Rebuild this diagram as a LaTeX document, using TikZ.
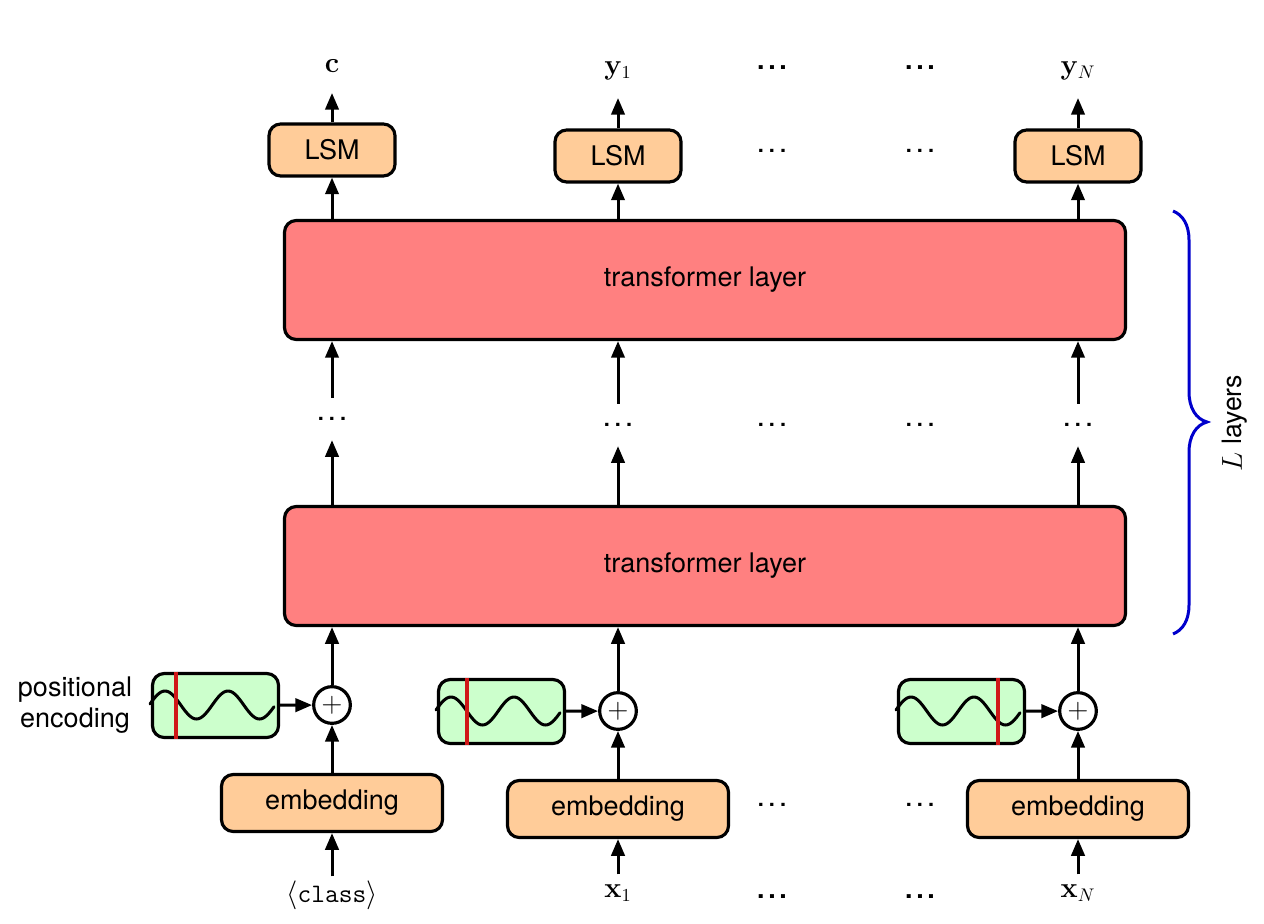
\documentclass[tikz,border=0pt]{standalone}
\usepackage[no-math]{fontspec}
\setmainfont{TeX Gyre Heros}
\usetikzlibrary{arrows.meta}
\definecolor{lsmfill}{HTML}{FFCC99}
\definecolor{layerfill}{HTML}{FF8080}
\definecolor{posfill}{HTML}{CCFFCC}
\definecolor{posred}{HTML}{D01818}
\definecolor{braceblue}{HTML}{0000CC}
\tikzset{
  x=0.6pt, y=-0.6pt,
  arr/.style={line width=1.8pt, -{Triangle[length=10pt,width=8pt]}},
  block/.style={draw, line width=1.9pt, rounded corners=7pt, inner sep=0pt, font=\fontsize{16.2}{19}\selectfont},
  lsmbox/.style={block, fill=lsmfill, minimum width=75.6pt, minimum height=31.2pt},
  embbox/.style={block, fill=lsmfill, minimum width=132.6pt, minimum height=34.2pt},
  layerbox/.style={block, fill=layerfill, minimum width=504.6pt, minimum height=71.4pt},
  posbox/.style={block, fill=posfill, minimum width=75.6pt, minimum height=38.4pt},
  plusnode/.style={draw, circle, line width=1.9pt, fill=white, minimum size=22pt, inner sep=0pt, font=\fontsize{16}{18}\selectfont},
  outlabel/.style={inner sep=0pt, minimum height=32pt, font=\fontsize{16}{18}\selectfont},
  dotsmid/.style={inner sep=0pt, minimum height=25pt, font=\fontsize{16}{18}\selectfont},
  inlabel/.style={inner sep=0pt, minimum height=22pt, font=\fontsize{16}{18}\selectfont},
  wave/.style={line width=1.8pt, line cap=round},
  redbar/.style={line width=2.2pt, posred}
}
\newcommand{\poswave}[2]{%
  \draw[wave] plot[domain=0:124, samples=70, smooth] ({#1+\x},{#2-14*cos(5.714*(\x-15))});
}
\newcommand{\bolddots}{\textbf{.\kern2.2pt.\kern2.2pt.}}
\newcommand{\thindots}{\textbf{\fontsize{13}{15}\selectfont.\kern3pt.\kern3pt.}}
\begin{document}
\begin{tikzpicture}
  \useasboundingbox (0,0) rectangle (1264,924);

  % outputs
  \node[outlabel] (c) at (332,66) {$\mathbf{c}$};
  \node[outlabel] (y1) at (618,71) {$\mathbf{y}_1$};
  \node[outlabel] (yN) at (1078,71) {$\mathbf{y}_N$};
  \node[outlabel] (topdotsa) at (772,68) {\bolddots};
  \node[outlabel] (topdotsb) at (920,68) {\bolddots};

  \node[lsmbox] (lsmc) at (332,150) {LSM};
  \node[lsmbox] (lsm1) at (618,156) {LSM};
  \node[lsmbox] (lsmN) at (1078,156) {LSM};
  \node[outlabel] (lsmdotsa) at (772,151) {\thindots};
  \node[outlabel] (lsmdotsb) at (920,151) {\thindots};

  % transformer layers
  \node[layerbox] (layertop) at (705,280) {transformer layer};
  \node[layerbox] (layerlow) at (705,566) {transformer layer};

  \node[dotsmid] (midc) at (332,419) {\thindots};
  \node[dotsmid] (mid1) at (618,425) {\thindots};
  \node[dotsmid] (midN) at (1078,425) {\thindots};
  \node[dotsmid] (middotsa) at (772,425) {\thindots};
  \node[dotsmid] (middotsb) at (920,425) {\thindots};

  % positional encoding
  \node[posbox] (posc) at (215.5,705.5) {};
  \node[posbox] (pos1) at (501.5,711.5) {};
  \node[posbox] (posN) at (961.5,711.5) {};
  \node[plusnode] (plusc) at (332,705) {$+$};
  \node[plusnode] (plus1) at (618,711) {$+$};
  \node[plusnode] (plusN) at (1078,711) {$+$};
  \node[align=center, inner sep=0pt, font=\fontsize{16.2}{18.5}\selectfont] (poslabel) at (75,705) {positional\\encoding};

  \poswave{150}{705}
  \poswave{436}{711}
  \poswave{896}{711}
  \draw[redbar] (posc.north west)++(25,0) coordinate (barc) -- (barc |- posc.south);
  \draw[redbar] (pos1.north west)++(30,0) coordinate (bara) -- (bara |- pos1.south);
  \draw[redbar] (posN.north west)++(101,0) coordinate (barb) -- (barb |- posN.south);

  % embeddings
  \node[embbox] (embc) at (332,803) {embedding};
  \node[embbox] (emb1) at (618,809) {embedding};
  \node[embbox] (embN) at (1078,809) {embedding};
  \node[outlabel] (embdotsa) at (772,805) {\thindots};
  \node[outlabel] (embdotsb) at (920,805) {\thindots};

  % inputs
  \node[inlabel] (xc) at (332,895) {$\langle\texttt{class}\rangle$};
  \node[inlabel] (x1) at (618,893) {$\mathbf{x}_1$};
  \node[inlabel] (xN) at (1078,893) {$\mathbf{x}_N$};
  \node[inlabel] (indotsa) at (772,897) {\bolddots};
  \node[inlabel] (indotsb) at (920,897) {\bolddots};

  % connectors
  \draw[arr] (lsmc) -- (c);
  \draw[arr] (lsm1) -- (y1);
  \draw[arr] (lsmN) -- (yN);
  \draw[arr] (lsmc |- layertop.north) -- (lsmc);
  \draw[arr] (lsm1 |- layertop.north) -- (lsm1);
  \draw[arr] (lsmN |- layertop.north) -- (lsmN);
  \draw[arr] (midc) -- (midc |- layertop.south);
  \draw[arr] (mid1) -- (mid1 |- layertop.south);
  \draw[arr] (midN) -- (midN |- layertop.south);
  \draw[arr] (midc |- layerlow.north) -- (midc);
  \draw[arr] (mid1 |- layerlow.north) -- (mid1);
  \draw[arr] (midN |- layerlow.north) -- (midN);
  \draw[arr] (plusc) -- (plusc |- layerlow.south);
  \draw[arr] (plus1) -- (plus1 |- layerlow.south);
  \draw[arr] (plusN) -- (plusN |- layerlow.south);
  \draw[arr] (posc) -- (plusc);
  \draw[arr] (pos1) -- (plus1);
  \draw[arr] (posN) -- (plusN);
  \draw[arr] (embc) -- (plusc);
  \draw[arr] (emb1) -- (plus1);
  \draw[arr] (embN) -- (plusN);
  \draw[arr] (xc) -- (embc);
  \draw[arr] (x1) -- (emb1);
  \draw[arr] (xN) -- (embN);

  % brace
  \draw[line width=1.8pt, braceblue] (1173,211) .. controls (1183,215) and (1189,225) .. (1189,240)
    -- (1189,392) .. controls (1189,408) and (1196,419) .. (1207,422)
    .. controls (1196,425) and (1189,436) .. (1189,452)
    -- (1189,605) .. controls (1189,620) and (1183,630) .. (1173,634);
  \node[rotate=90, inner sep=0pt, font=\fontsize{16}{18}\selectfont] (layerslabel) at (1235,423) {$L$ layers};
\end{tikzpicture}
\end{document}
